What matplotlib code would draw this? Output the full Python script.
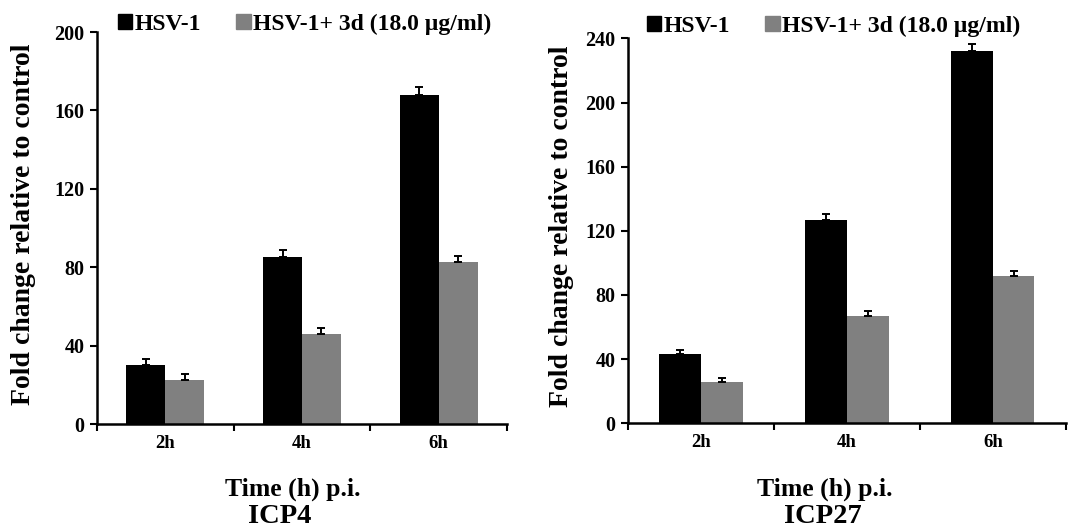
import matplotlib.pyplot as plt
import matplotlib.patches as mpatches
import numpy as np

categories = ["2h", "4h", "6h"]

icp4_hsv = [30, 85, 168]
icp4_hsv_err = [3, 4, 4]
icp4_3d = [22.5, 46, 82.5]
icp4_3d_err = [3, 3, 3]

icp27_hsv = [43, 127, 232]
icp27_hsv_err = [2.5, 3.5, 4.5]
icp27_3d = [25.5, 67, 92]
icp27_3d_err = [2.5, 3, 3]

series_labels = ["HSV-1", "HSV-1+ 3d (18.0 µg/ml)"]
colors = ["#000000", "#808080"]

plt.rcParams["font.family"] = ["Liberation Serif", "DejaVu Serif"]
plt.rcParams["font.weight"] = "bold"


def draw_panel(ax, hsv, hsv_err, drug, drug_err, ymax, legend_xy):
    x = np.arange(len(categories))
    width = 0.285
    for off, vals, errs, col in [(-width / 2, hsv, hsv_err, colors[0]),
                                 (width / 2, drug, drug_err, colors[1])]:
        ax.bar(x + off, vals, width, color=col, zorder=2)
        ax.errorbar(x + off, vals, yerr=[np.zeros(len(errs)), errs], fmt="none",
                    ecolor="black", elinewidth=1.4, capsize=2.6, capthick=1.4, zorder=3)
    ax.set_xlim(-0.5, len(categories) - 0.5)
    ax.set_ylim(0, ymax)
    ax.set_yticks(np.arange(0, ymax + 1, 40))
    ax.set_xticks(x)
    ax.set_xticklabels(categories)
    ax.set_xticks(np.arange(-0.5, len(categories)), minor=True)
    ax.tick_params(axis="x", which="major", length=0, pad=8, labelsize=13.5)
    ax.tick_params(axis="x", which="minor", length=5, width=1.5, direction="out")
    ax.tick_params(axis="y", length=5, width=1.5, direction="out", labelsize=14.5, pad=4)
    for s in ["top", "right"]:
        ax.spines[s].set_visible(False)
    for s in ["left", "bottom"]:
        ax.spines[s].set_linewidth(1.8)
    ax.set_ylabel("Fold change relative to control", fontsize=20, fontweight="bold")
    handles = [mpatches.Patch(color=c) for c in colors]
    ax.legend(handles, series_labels, ncol=2, frameon=False, fontsize=17,
              loc="center left", bbox_to_anchor=legend_xy,
              bbox_transform=ax.figure.transFigure, handlelength=0.6,
              handleheight=0.6, handletextpad=0.1, columnspacing=1.5,
              borderaxespad=0, borderpad=0)


fig = plt.figure(figsize=(10.81, 5.31), dpi=100)
ax1 = fig.add_axes([0.0897, 0.2015, 0.3793, 0.7382])
ax2 = fig.add_axes([0.581, 0.2028, 0.405, 0.725])

draw_panel(ax1, icp4_hsv, icp4_hsv_err, icp4_3d, icp4_3d_err, 200,
           (118 / 1081, 1 - 24 / 531))
draw_panel(ax2, icp27_hsv, icp27_hsv_err, icp27_3d, icp27_3d_err, 240,
           (647 / 1081, 1 - 26 / 531))
ax1.yaxis.set_label_coords(36 / 1081, 1 - 224 / 531, transform=fig.transFigure)
ax2.yaxis.set_label_coords(574 / 1081, 1 - 226 / 531, transform=fig.transFigure)

fig.text(0.271, 1 - 489 / 531, "Time (h) p.i.", ha="center", va="center", fontsize=18.5, fontweight="bold")
fig.text(0.259, 2 / 531, "ICP4", ha="center", va="bottom", fontsize=20.5, fontweight="bold")
fig.text(0.763, 1 - 489 / 531, "Time (h) p.i.", ha="center", va="center", fontsize=18.5, fontweight="bold")
fig.text(0.761, 2 / 531, "ICP27", ha="center", va="bottom", fontsize=20.5, fontweight="bold")

fig.savefig("out.png", dpi=100)
